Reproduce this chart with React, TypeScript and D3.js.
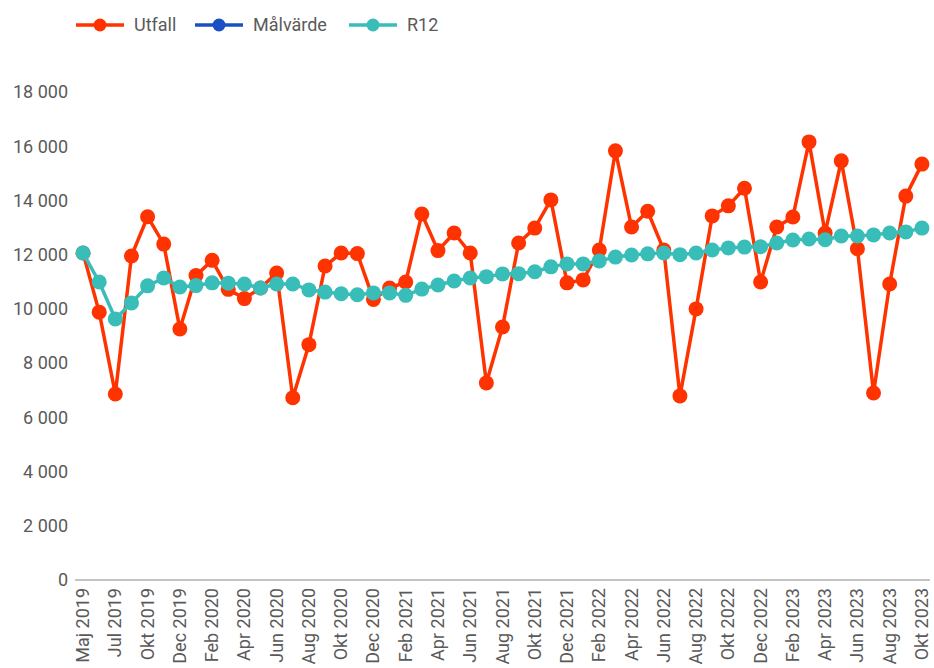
import React from "react";
import * as d3 from "d3";

const categories = [
  "Maj 2019", "Jun 2019", "Jul 2019", "Aug 2019", "Okt 2019", "Nov 2019", "Dec 2019",
  "Jan 2020", "Feb 2020", "Mar 2020", "Apr 2020", "Maj 2020", "Jun 2020", "Jul 2020", "Aug 2020", "Sep 2020", "Okt 2020", "Nov 2020", "Dec 2020",
  "Jan 2021", "Feb 2021", "Mar 2021", "Apr 2021", "Maj 2021", "Jun 2021", "Jul 2021", "Aug 2021", "Sep 2021", "Okt 2021", "Nov 2021", "Dec 2021",
  "Jan 2022", "Feb 2022", "Mar 2022", "Apr 2022", "Maj 2022", "Jun 2022", "Jul 2022", "Aug 2022", "Sep 2022", "Okt 2022", "Nov 2022", "Dec 2022",
  "Jan 2023", "Feb 2023", "Mar 2023", "Apr 2023", "Maj 2023", "Jun 2023", "Jul 2023", "Aug 2023", "Sep 2023", "Okt 2023",
];

const utfall = [
  12060, 9880, 6860, 11950, 13400, 12390, 9260,
  11230, 11790, 10720, 10380, 10770, 11320, 6720, 8680, 11580, 12060, 12040, 10350,
  10770, 10990, 13500, 12150, 12800, 12060, 7270, 9330, 12430, 12980, 14020, 10960,
  11070, 12170, 15830, 13020, 13600, 12170, 6790, 10000, 13430, 13800, 14450, 10990,
  13020, 13390, 16160, 12800, 15460, 12220, 6900, 10920, 14160, 15340,
];

const r12 = [
  12060, 10990, 9630, 10220, 10850, 11140, 10810,
  10860, 10960, 10950, 10920, 10770, 10920, 10920, 10700, 10620, 10560, 10520, 10590,
  10590, 10500, 10730, 10880, 11030, 11140, 11190, 11290, 11300, 11370, 11550, 11660,
  11660, 11770, 11910, 11990, 12030, 12060, 12000, 12060, 12170, 12250, 12280, 12290,
  12430, 12540, 12580, 12550, 12690, 12690, 12730, 12800, 12840, 12980,
];

const yTicks = [0, 2000, 4000, 6000, 8000, 10000, 12000, 14000, 16000, 18000];

const legendItems = [
  { name: "Utfall", color: "#ff3300" },
  { name: "Målvärde", color: "#1c4fc4" },
  { name: "R12", color: "#39bdb8" },
];

const W = 934;
const H = 668;

export default function App() {
  const x = d3.scalePoint<string>().domain(categories).range([75, 930]).padding(0.5);
  const y = d3.scaleLinear().domain([0, 18000]).range([580, 92]);
  const fmt = (v: number) => d3.format(",")(v).replace(/,/g, " ");
  const line = d3
    .line<number>()
    .x((_, i) => x(categories[i]) as number)
    .y((d) => y(d));

  const font = "Roboto, 'Open Sans', Arial, sans-serif";
  const textColor = "#5a5a5a";
  const fs = 18;

  const series = [
    { name: "Utfall", data: utfall, color: legendItems[0].color },
    { name: "R12", data: r12, color: legendItems[2].color },
  ];

  const legendX = [76, 195, 349];

  return (
    <div style={{ position: "absolute", left: 0, top: 0 }}>
      <svg width={W} height={H} style={{ display: "block", background: "#fff" }} fontFamily={font}>
        {/* legend */}
        {legendItems.map((item, i) => (
          <g key={item.name} transform={`translate(${legendX[i]},25)`}>
            <line x1={0} x2={48} y1={0} y2={0} stroke={item.color} strokeWidth={3.5} />
            <circle cx={24} cy={0} r={6.5} fill={item.color} />
            <text x={58} y={0} dy="0.35em" fontSize={fs} fill={textColor}>
              {item.name}
            </text>
          </g>
        ))}

        {/* y axis labels */}
        {yTicks.map((t) => (
          <text key={t} x={68} y={y(t)} dy="0.35em" textAnchor="end" fontSize={fs} fill={textColor}>
            {fmt(t)}
          </text>
        ))}

        {/* baseline */}
        <line x1={75} x2={930} y1={580} y2={580} stroke="#c4c4c4" strokeWidth={2} />

        {/* x labels */}
        {categories.map((c, i) =>
          i % 2 === 0 ? (
            <text
              key={c}
              transform={`translate(${(x(c) as number) + 6},588) rotate(-90)`}
              textAnchor="end"
              fontSize={fs}
              fill={textColor}
            >
              {c}
            </text>
          ) : null
        )}

        {/* series */}
        {series.map((s) => (
          <g key={s.name}>
            <path d={line(s.data) || ""} fill="none" stroke={s.color} strokeWidth={3.5} strokeLinejoin="round" />
            {s.data.map((v, i) => (
              <circle key={i} cx={x(categories[i]) as number} cy={y(v)} r={7.5} fill={s.color} />
            ))}
          </g>
        ))}
      </svg>
    </div>
  );
}
